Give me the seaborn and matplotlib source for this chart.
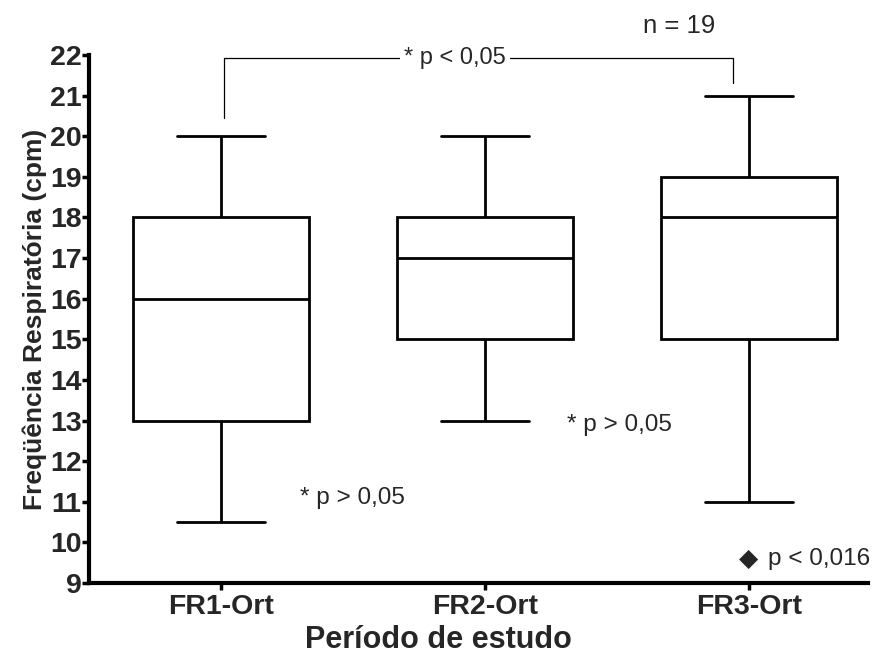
import matplotlib
matplotlib.use("Agg")
import matplotlib.pyplot as plt
import seaborn as sns
import pandas as pd

# Data: five-number summaries (min, Q1, median, Q3, max)
categories = ["FR1-Ort", "FR2-Ort", "FR3-Ort"]
fr1_values = [10.5, 13, 16, 18, 20]
fr2_values = [13, 15, 17, 18, 20]
fr3_values = [11, 15, 18, 19, 21]
y_ticks = list(range(9, 23))

df = pd.DataFrame({
    "periodo": [categories[0]] * len(fr1_values) + [categories[1]] * len(fr2_values)
               + [categories[2]] * len(fr3_values),
    "fr": fr1_values + fr2_values + fr3_values,
})

sns.set_style("ticks")
plt.rcParams["font.family"] = ["Liberation Sans", "DejaVu Sans"]

fig = plt.figure(figsize=(8.73, 6.6), dpi=100)
ax = fig.add_axes([0.102, 0.1167, 0.892, 0.80])

sns.boxplot(data=df, x="periodo", y="fr", order=categories, whis=(0, 100),
            width=0.667, color="white", linecolor="black", linewidth=2.0,
            ax=ax)

ax.set_xlim(-0.5, 2.45)
ax.set_ylim(9, 22)
ax.set_yticks(y_ticks)
ax.set_yticklabels([str(t) for t in y_ticks], fontsize=20.5, fontweight="bold")
ax.set_xticks(range(len(categories)))
ax.set_xticklabels(categories, fontsize=20.5, fontweight="bold")
ax.tick_params(axis="both", width=2.5, length=5, color="black")
ax.tick_params(axis="y", pad=0.5)
ax.tick_params(axis="x", pad=3)

for s in ["top", "right"]:
    ax.spines[s].set_visible(False)
for s in ["left", "bottom"]:
    ax.spines[s].set_linewidth(3)
    ax.spines[s].set_color("black")

ax.set_xlabel("Período de estudo", fontsize=22, fontweight="bold")
ax.xaxis.set_label_coords((439 - 89) / 779, (583 - 640) / 528, transform=ax.transAxes)
ax.xaxis.label.set_va("center")
ax.set_ylabel("Freqüência Respiratória (cpm)", fontsize=19, fontweight="bold", labelpad=2)

# Significance bracket
bx0, bx1 = 0.01, 1.94
ax.plot([bx0, bx0, bx1, bx1], [20.45, 21.93, 21.93, 21.3], color="black",
        lw=0.9, clip_on=False)
ax.text(0.887, 21.93, "* p < 0,05", ha="center", va="center", fontsize=17,
        clip_on=False,
        bbox=dict(facecolor="white", edgecolor="none", pad=3))
fig.text(679 / 873, 1 - 26 / 660, "n = 19", ha="center", va="center", fontsize=18.5)

ax.text(0.30, 11.1, "* p > 0,05", ha="left", va="center", fontsize=17.5)
ax.text(1.31, 12.9, "* p > 0,05", ha="left", va="center", fontsize=17.5)
ax.text(2.0, 9.58, "◆", ha="center", va="center", fontsize=18,
        family=["DejaVu Sans"])
ax.text(2.072, 9.58, "p < 0,016", ha="left", va="center", fontsize=17.5)

fig.savefig("out.png", dpi=100)
